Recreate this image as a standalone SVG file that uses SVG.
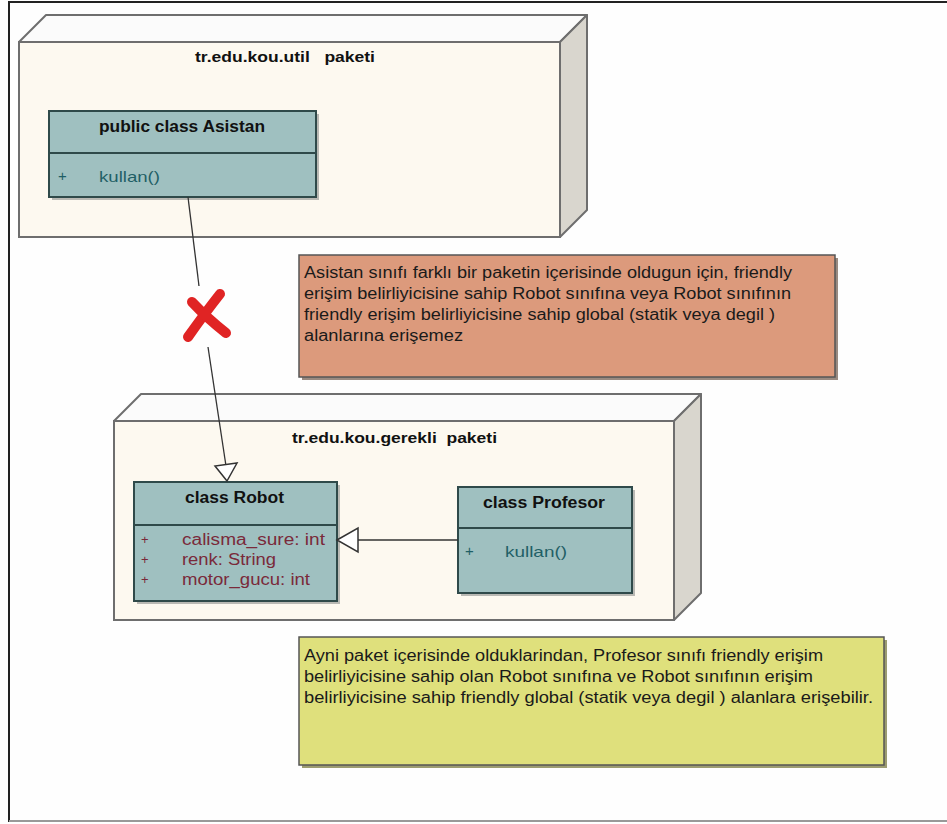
<svg xmlns="http://www.w3.org/2000/svg" width="947" height="824" viewBox="0 0 947 824">
<defs>
<style>
text{font-family:"Liberation Sans",Arial,sans-serif;}
.pfront{fill:#fdf9f0;stroke:#6e6e6e;stroke-width:2;}
.ptop{fill:#fbfbfb;stroke:#6e6e6e;stroke-width:2;stroke-linejoin:round;}
.pside{fill:#d9d6ce;stroke:#6e6e6e;stroke-width:2;stroke-linejoin:round;}
.ptitle{font-size:15px;font-weight:bold;fill:#111;}
.cls{fill:#9fc0c0;stroke:#2f4a4a;stroke-width:2;}
.shadow{fill:#b9b9b4;}
.div{stroke:#2f4a4a;stroke-width:2;}
.ctitle{font-size:16px;font-weight:bold;fill:#111;}
.op{font-size:15px;fill:#1f5f66;}
.attr{font-size:16px;fill:#7a2a3a;}
.plus{font-size:13px;fill:#7a2a3a;}
.note{font-size:16px;fill:#1a1a1a;}
.conn{stroke:#333;stroke-width:1.3;fill:none;}
.head{fill:#fff;stroke:#333;stroke-width:1.5;stroke-linejoin:miter;}
</style>
</defs>
<rect x="0" y="0" width="947" height="824" fill="#ffffff"/>
<rect x="9" y="2" width="950" height="819" fill="#fefefe" stroke="#222" stroke-width="2"/>
<line x1="9" y1="821" x2="947" y2="821" stroke="#999" stroke-width="2"/>

<g id="pkg-util">
<polygon class="ptop" points="19,42 46,15 587,15 560,42"/>
<polygon class="pside" points="560,42 587,15 587,210 560,237"/>
<rect class="pfront" x="19" y="42" width="541" height="195"/>
<text class="ptitle" x="195" y="62" textLength="180" lengthAdjust="spacingAndGlyphs" xml:space="preserve">tr.edu.kou.util   paketi</text>
</g>

<g id="pkg-gerekli">
<polygon class="ptop" points="114,421 141,394 701,394 674,421"/>
<polygon class="pside" points="674,421 701,394 701,593 674,620"/>
<rect class="pfront" x="114" y="421" width="560" height="199"/>
<text class="ptitle" x="292" y="443" textLength="205" lengthAdjust="spacingAndGlyphs" xml:space="preserve">tr.edu.kou.gerekli  paketi</text>
</g>

<g id="class-asistan">
<rect class="shadow" x="52" y="114" width="267" height="86"/>
<rect class="cls" x="49" y="111" width="267" height="86"/>
<line class="div" x1="49" y1="153" x2="316" y2="153"/>
<text class="ctitle" x="99" y="132" textLength="166" lengthAdjust="spacingAndGlyphs">public class Asistan</text>
<text class="op" x="58" y="181">+</text>
<text class="op" x="99" y="182" textLength="61" lengthAdjust="spacingAndGlyphs">kullan()</text>
</g>

<g id="class-robot">
<rect class="shadow" x="137" y="485" width="203" height="119"/>
<rect class="cls" x="134" y="482" width="203" height="119"/>
<line class="div" x1="134" y1="525" x2="337" y2="525"/>
<text class="ctitle" x="185" y="503" textLength="99" lengthAdjust="spacingAndGlyphs">class Robot</text>
<text class="plus" x="141" y="544">+</text>
<text class="attr" x="182" y="545" textLength="143" lengthAdjust="spacingAndGlyphs">calisma_sure: int</text>
<text class="plus" x="141" y="564">+</text>
<text class="attr" x="182" y="565" textLength="94" lengthAdjust="spacingAndGlyphs">renk: String</text>
<text class="plus" x="141" y="584">+</text>
<text class="attr" x="182" y="585" textLength="128" lengthAdjust="spacingAndGlyphs">motor_gucu: int</text>
</g>

<g id="class-profesor">
<rect class="shadow" x="461" y="490" width="174" height="106"/>
<rect class="cls" x="458" y="487" width="174" height="106"/>
<line class="div" x1="458" y1="528" x2="632" y2="528"/>
<text class="ctitle" x="483" y="508" textLength="122" lengthAdjust="spacingAndGlyphs">class Profesor</text>
<text class="op" x="465" y="556">+</text>
<text class="op" x="505" y="557" textLength="62" lengthAdjust="spacingAndGlyphs">kullan()</text>
</g>

<g id="note-red">
<rect x="302" y="258" width="536" height="122" fill="#9a8a80"/>
<rect x="299" y="255" width="536" height="122" fill="#dc9a7c" stroke="#555" stroke-width="1.5"/>
<text class="note" x="304" y="278" textLength="488" lengthAdjust="spacingAndGlyphs">Asistan sınıfı farklı bir paketin içerisinde oldugun için, friendly</text>
<text class="note" x="304" y="299" textLength="487" lengthAdjust="spacingAndGlyphs">erişim belirliyicisine sahip Robot sınıfına veya Robot sınıfının</text>
<text class="note" x="304" y="320" textLength="471" lengthAdjust="spacingAndGlyphs">friendly erişim belirliyicisine sahip global (statik veya degil )</text>
<text class="note" x="304" y="341" textLength="159" lengthAdjust="spacingAndGlyphs">alanlarına erişemez</text>
</g>

<g id="note-yellow">
<rect x="302" y="640" width="585" height="128" fill="#9c9c70"/>
<rect x="299" y="637" width="585" height="128" fill="#dfe07c" stroke="#555" stroke-width="1.5"/>
<text class="note" x="304" y="661" textLength="519" lengthAdjust="spacingAndGlyphs">Ayni paket içerisinde olduklarindan, Profesor sınıfı friendly erişim</text>
<text class="note" x="304" y="682" textLength="509" lengthAdjust="spacingAndGlyphs">belirliyicisine sahip olan Robot sınıfına ve Robot sınıfının erişim</text>
<text class="note" x="304" y="703" textLength="569" lengthAdjust="spacingAndGlyphs">belirliyicisine sahip friendly global (statik veya degil ) alanlara erişebilir.</text>
</g>

<g id="connectors">
<line class="conn" x1="188" y1="197" x2="199" y2="286"/>
<line class="conn" x1="208" y1="347" x2="226" y2="466"/>
<polygon class="head" points="227,481 215,466 237,463"/>
<path d="M220,294 Q205,313 188,337" stroke="#e02424" stroke-width="10" stroke-linecap="round" fill="none"/>
<path d="M192,302 Q207,318 226,333" stroke="#e02424" stroke-width="10" stroke-linecap="round" fill="none"/>
<line class="conn" x1="458" y1="540" x2="358" y2="540"/>
<polygon class="head" points="337,540 358,528 358,552"/>
</g>
</svg>
